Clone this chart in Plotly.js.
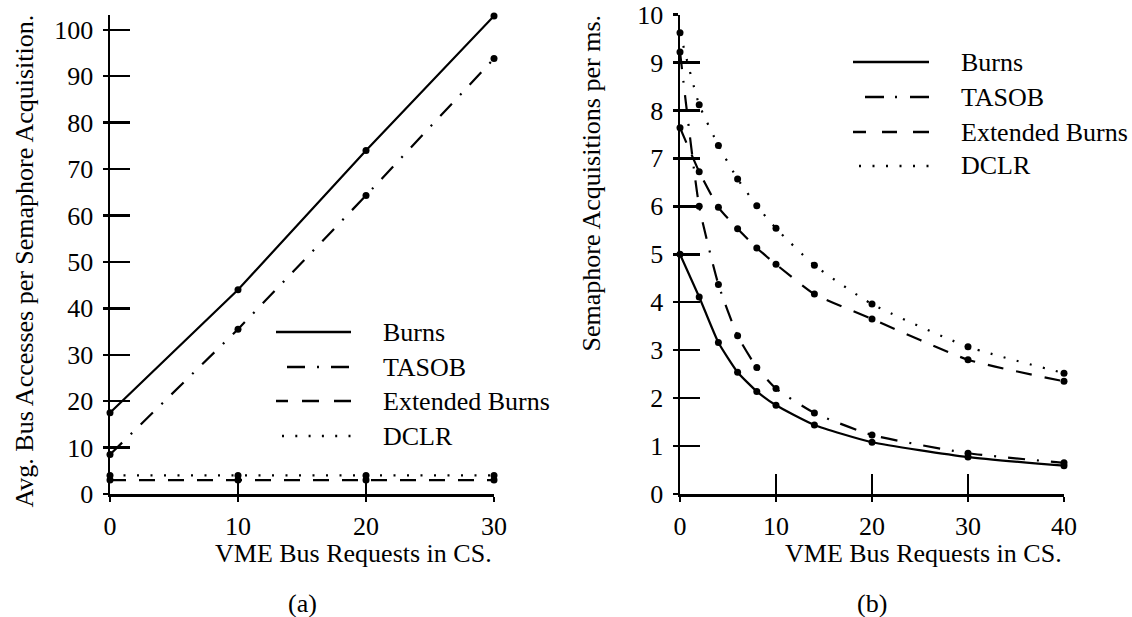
<!DOCTYPE html>
<html><head><meta charset="utf-8">
<script src="https://cdn.plot.ly/plotly-3.0.1.min.js"></script>
<style>html,body{margin:0;padding:0;background:#fff}#chart{width:1132px;height:617px}</style>
</head><body><div id="chart"></div>
<script>
// ---- data ----
const seriesNames = ['Burns', 'TASOB', 'Extended Burns', 'DCLR'];
const xA = [0, 10, 20, 30];
const burnsA = [17.5, 44, 74, 103];
const tasobA = [8.5, 35.5, 64.3, 93.8];
const extBurnsA = [3, 3, 3, 3];
const dclrA = [4, 4, 4, 4];
const xB = [0, 2, 4, 6, 8, 10, 14, 20, 30, 40];
const burnsB = [5.0, 4.11, 3.16, 2.54, 2.14, 1.85, 1.44, 1.08, 0.77, 0.59];
const tasobB = [9.22, 6.0, 4.37, 3.30, 2.64, 2.20, 1.69, 1.23, 0.85, 0.65];
const extBurnsB = [7.64, 6.72, 5.98, 5.53, 5.13, 4.79, 4.17, 3.65, 2.80, 2.35];
const dclrB = [9.62, 8.12, 7.27, 6.57, 6.01, 5.54, 4.77, 3.96, 3.07, 2.52];
const xTitle = 'VME Bus Requests in CS.';
const yTitleA = 'Avg. Bus Accesses per Semaphore Acquisition.';
const yTitleB = 'Semaphore Acquisitions per ms.';
const panelLabels = ['(a)', '(b)'];

// ---- styles ----
const W = 1132, H = 617;
const px = v => v / W, py = v => 1 - v / H;
const FONT = 'Liberation Serif, Times New Roman, serif';
const dataDash = ['solid', '17px,12px,2px,12px', '16px,13px', '2px,11.5px'];
const ink = '#000';

function series(x, ys, xa, ya, spline) {
  return ys.map((y, i) => ({
    type: 'scatter', mode: 'lines+markers', x: x, y: y, xaxis: xa, yaxis: ya,
    name: seriesNames[i], showlegend: false, cliponaxis: false, hoverinfo: 'x+y',
    line: {color: ink, width: 2.2, dash: dataDash[i], shape: spline ? 'spline' : 'linear', smoothing: 0.5},
    marker: {color: ink, size: 7}
  }));
}

const traces = [
  ...series(xA, [burnsA, tasobA, extBurnsA, dclrA], 'x', 'y', false),
  ...series(xB, [burnsB, tasobB, extBurnsB, dclrB], 'x2', 'y2', true),
  {type: 'scatter', x: [null], y: [null], xaxis: 'x3', yaxis: 'y3', showlegend: false, hoverinfo: 'skip'},
  {type: 'scatter', x: [null], y: [null], xaxis: 'x4', yaxis: 'y4', showlegend: false, hoverinfo: 'skip'}
];

const yDom = [(H - 494) / H, (H - 14.5) / H];
const domA = [px(110), px(494)];
const domB = [px(680), px(1064)];

function mainAxis(extra) {
  return Object.assign({
    showgrid: false, zeroline: false, showline: true, linecolor: ink, linewidth: 2.5,
    ticks: 'outside', ticklen: 5, tickwidth: 2.5, tickcolor: ink,
    tickfont: {family: FONT, size: 26, color: ink}, fixedrange: true
  }, extra);
}
function overAxis(extra) {
  return Object.assign({
    showgrid: false, zeroline: false, showline: false,
    ticks: 'inside', ticklen: 20, tickwidth: 2.5, tickcolor: ink,
    showticklabels: false, fixedrange: true
  }, extra);
}

const layout = {
  width: W, height: H, margin: {l: 0, r: 0, t: 0, b: 0},
  paper_bgcolor: '#fff', plot_bgcolor: 'rgba(0,0,0,0)', showlegend: false,
  font: {family: FONT, size: 26, color: ink},
  xaxis: mainAxis({domain: domA, range: [0, 30], tickvals: [0, 10, 20, 30], anchor: 'y', ticklabelstandoff: 2}),
  yaxis: mainAxis({domain: yDom, range: [0, 103.3], tickvals: [0,10,20,30,40,50,60,70,80,90,100], anchor: 'x', ticklabelstandoff: 4}),
  xaxis2: mainAxis({domain: domB, range: [0, 40], tickvals: [0, 10, 20, 30, 40], anchor: 'y2', ticklabelstandoff: 2}),
  yaxis2: mainAxis({domain: yDom, range: [0, 10], tickvals: [0,1,2,3,4,5,6,7,8,9,10], anchor: 'x2', ticklabelstandoff: 4}),
  xaxis3: overAxis({overlaying: 'x', anchor: 'y', range: [0, 30], tickvals: [0, 10, 20, 30]}),
  yaxis3: overAxis({overlaying: 'y', anchor: 'x', range: [0, 103.3], tickvals: [0,10,20,30,40,50,60,70,80,90,100]}),
  xaxis4: overAxis({overlaying: 'x2', anchor: 'y2', range: [0, 40], tickvals: [0, 10, 20, 30, 40]}),
  yaxis4: overAxis({overlaying: 'y2', anchor: 'x2', range: [0, 10], tickvals: [0,1,2,3,4,5,6,7,8,9,10]}),
  shapes: [],
  annotations: []
};

const ann = (text, x, y, xa, ya, angle) => ({
  text: text, xref: 'paper', yref: 'paper', x: x, y: y, xanchor: xa, yanchor: ya,
  showarrow: false, textangle: angle || 0, font: {family: FONT, size: 26, color: ink}
});

// axis titles & panel labels
layout.annotations.push(ann(yTitleA, px(24), py(13), 'center', 'top', -90));
layout.annotations.push(ann(yTitleB, px(591), py(13), 'center', 'top', -90));
layout.annotations.push(ann(xTitle, px(494), py(553), 'right', 'middle'));
layout.annotations.push(ann(xTitle, px(1064), py(553), 'right', 'middle'));
layout.annotations.push(ann(panelLabels[0], px(302), py(603), 'center', 'middle'));
layout.annotations.push(ann(panelLabels[1], px(872), py(603), 'center', 'middle'));

// legends (samples + labels)
const legends = [
  {rows: [332, 367, 401, 436], textX: 381,
   samples: [[276, 351, 'solid'], [287, 351, '18px,12px,2px,12px'], [276, 351, '12px,14px,17px,15px,17px'], [282, 352, '2px,11.3px']]},
  {rows: [62, 97, 132, 166], textX: 959,
   samples: [[853, 929, 'solid'], [865, 929, '19px,11px,2px,13px'], [853, 929, '13px,16px,15px,16px,16px'], [859, 930, '2px,11.5px']]}
];
legends.forEach(lg => {
  seriesNames.forEach((nm, i) => {
    const s = lg.samples[i];
    layout.shapes.push({type: 'line', xref: 'paper', yref: 'paper',
      x0: px(s[0]), x1: px(s[1]), y0: py(lg.rows[i]), y1: py(lg.rows[i]),
      line: {color: ink, width: 2.4, dash: s[2]}});
    layout.annotations.push(ann(nm, px(lg.textX), py(lg.rows[i]), 'left', 'middle'));
  });
});

Plotly.newPlot('chart', traces, layout, {staticPlot: true, displayModeBar: false});
</script>
</body></html>
